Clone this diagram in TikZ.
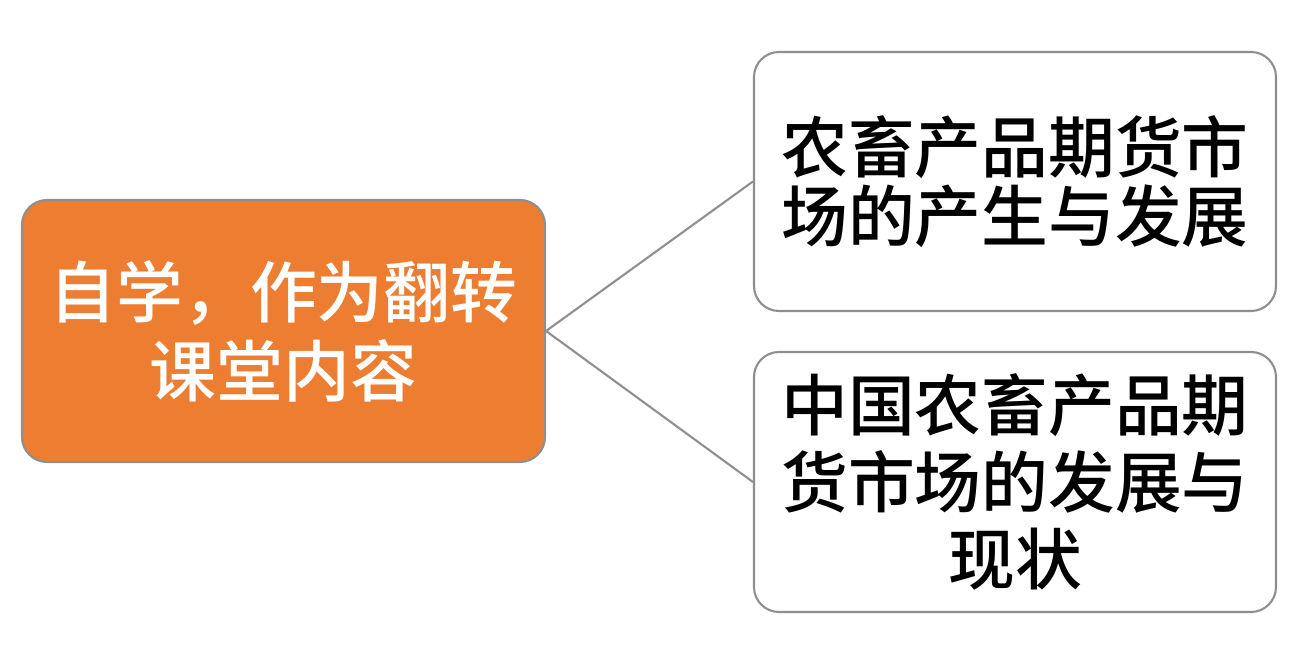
\documentclass[tikz,border=0pt]{standalone}
\usepackage{fontspec}
\setmainfont{Noto Sans CJK SC}[UprightFont=* Medium]
\usepackage{tikz}
\usetikzlibrary{positioning}
\usepackage{xcolor}
\definecolor{accentOrange}{HTML}{ED7D31}
\definecolor{edgeGray}{HTML}{8F8F8F}

\begin{document}
\begin{tikzpicture}[
    topicBox/.style={draw=edgeGray, line width=0.6pt, rounded corners=0.25cm, align=center, inner sep=0pt},
    linkStyle/.style={draw=edgeGray, line width=0.6pt}
]
    \useasboundingbox (0,0) rectangle (12.98,6.64);

    % Nodo centrale
    \node[topicBox, fill=accentOrange, text=white, minimum width=5.23cm, minimum height=2.62cm,
          font=\fontsize{19pt}{22.5pt}\selectfont] (root) at (2.835, 3.33) {
        自学，作为翻转\\课堂内容
    };

    % 2 argomenti
    \node[topicBox, fill=white, minimum width=5.22cm, minimum height=2.59cm,
          font=\fontsize{19pt}{19.8pt}\selectfont] (origin) at (10.15, 4.825) {
        农畜产品期货市\\场的产生与发展
    };

    \node[topicBox, fill=white, minimum width=5.22cm, minimum height=2.60cm,
          font=\fontsize{19pt}{22pt}\selectfont] (china) at (10.15, 1.82) {
        中国农畜产品期\\货市场的发展与\\现状
    };

    \draw[linkStyle] (root.east) -- (origin.west);
    \draw[linkStyle] (root.east) -- (china.west);
\end{tikzpicture}
\end{document}
